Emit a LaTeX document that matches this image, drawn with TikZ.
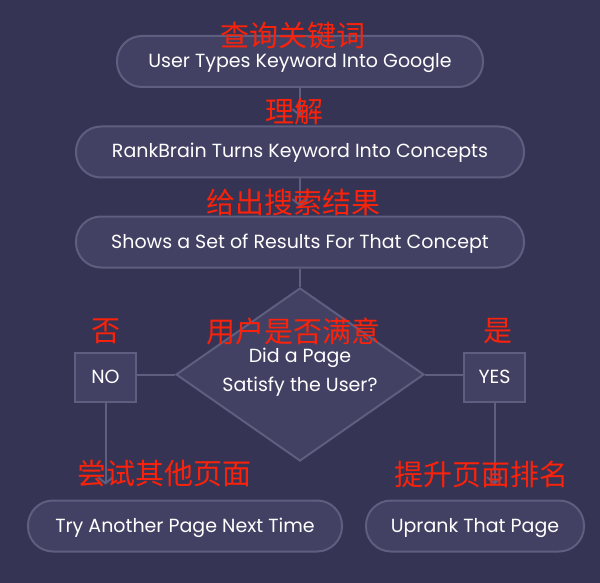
\documentclass[tikz,border=0pt]{standalone}
\usepackage{fontspec}
\setmainfont{Poppins}
\newfontfamily\zh{Noto Sans CJK SC}
\usetikzlibrary{shapes.geometric, arrows.meta, positioning}

\definecolor{night}{RGB}{53,52,85}
\definecolor{boxfill}{RGB}{67,65,99}
\definecolor{rim}{RGB}{94,94,128}
\definecolor{note}{RGB}{250,34,10}

\begin{document}
\begin{tikzpicture}[x=1pt, y=-1pt,
step box/.style={draw=rim, fill=boxfill, line width=2pt, rounded corners=25pt,
  minimum height=51pt, text height=14pt, text depth=2pt, text=white,
  font=\fontsize{19}{23}\selectfont},
choice/.style={draw=rim, fill=boxfill, line width=2pt, minimum width=61pt,
  minimum height=49pt, text height=14pt, text depth=2pt, text=white,
  font=\fontsize{19}{23}\selectfont},
flow/.style={draw=rim, line width=2pt, -{Straight Barb[length=6pt, width=15pt, line width=2pt]}},
link/.style={draw=rim, line width=2pt}]
\tikzstyle{zhnote}=[text=note, font=\zh\fontsize{29}{32}\selectfont, inner sep=0pt]
% background
\fill[night] (0,0) rectangle (600,583);
\useasboundingbox (0,0) rectangle (600,583);
%steps
\node[step box, minimum width=366pt] (user) at (300,61.5) {User Types Keyword Into Google};
\node[step box, minimum width=448pt] (brain) at (300,152) {RankBrain Turns Keyword Into Concepts};
\node[step box, minimum width=448pt] (results) at (300,242) {Shows a Set of Results For That Concept};
\node[diamond, aspect=1.43, draw=rim, fill=boxfill, line width=2pt, minimum width=248pt,
  minimum height=173pt, inner sep=0pt, text=white, align=center,
  font=\fontsize{19}{29}\selectfont] (ask) at (300,374.5) {Did a Page\\Satisfy the User?\\[-20pt]};
\node[choice, left=38pt of ask, yshift=-3pt] (no) {NO};
\node[choice, right=38pt of ask, yshift=-3pt] (yes) {YES};
\node[step box, minimum width=314pt] (retry) at (185,526) {Try Another Page Next Time};
\node[step box, minimum width=218pt] (uprank) at (475,526) {Uprank That Page};

\draw[flow, shorten >=9pt] (user) -- (brain);
\draw[flow, shorten >=9pt] (brain) -- (results);
\draw[link] (results) -- (ask);
\draw[link] (ask.west) -- (ask.west -| no.east);
\draw[link] (ask.east) -- (ask.east -| yes.west);
\draw[flow, shorten >=15pt] (no) -- (no |- retry.north);
\draw[flow, shorten >=15pt] (yes) -- (yes |- uprank.north);

% notes
\node[zhnote] at (293,36) {查询关键词};
\node[zhnote] at (294,112) {理解};
\node[zhnote] at (293,203) {给出搜索结果};
\node[zhnote] at (106,331) {否};
\node[zhnote] at (293,331) {用户是否满意};
\node[zhnote] at (498,331) {是};
\node[zhnote] at (164,474) {尝试其他页面};
\node[zhnote] at (481,474) {提升页面排名};
\end{tikzpicture}
\end{document}
